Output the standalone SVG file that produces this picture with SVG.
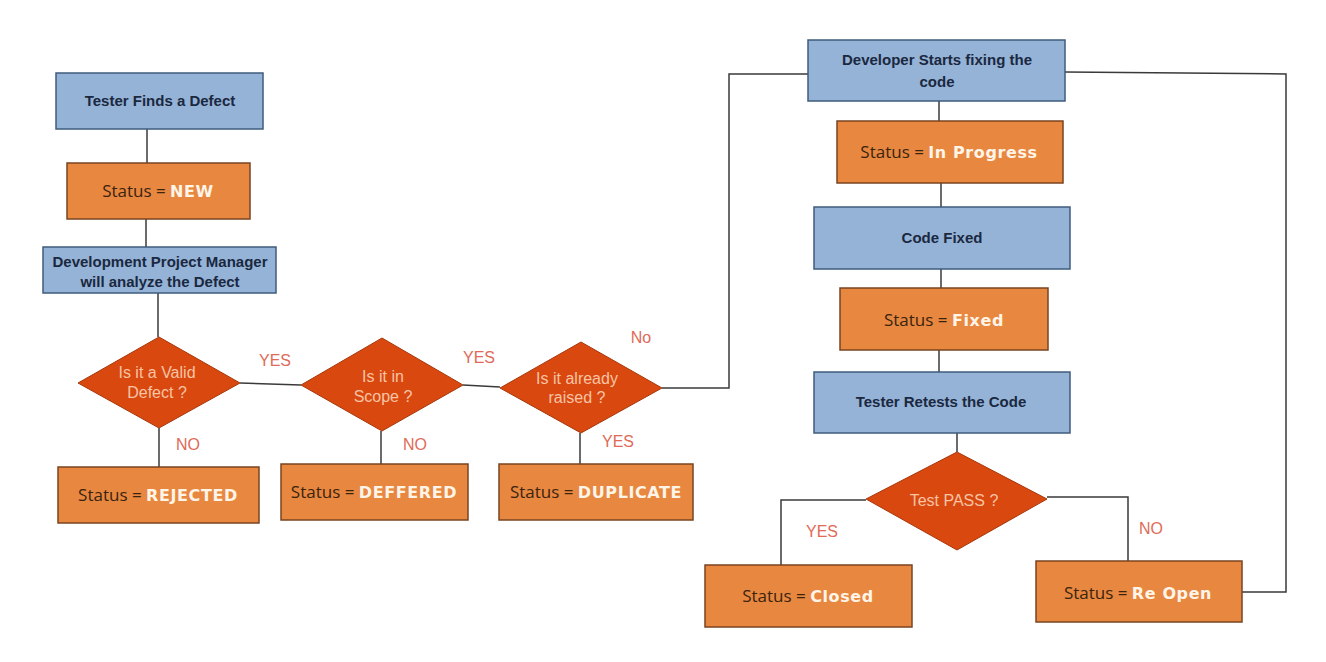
<svg xmlns="http://www.w3.org/2000/svg" width="1326" height="662" viewBox="0 0 1326 662">
<style>
.blue{fill:#95b3d7;stroke:#3f5c7c;stroke-width:1.5}
.org{fill:#e8873f;stroke:#7a4420;stroke-width:1.5}
.dia{fill:#d9480f;stroke:#a8380c;stroke-width:1}
.bt{font-family:"Liberation Sans",Arial,sans-serif;font-weight:bold;font-size:15px;fill:#1a2840;text-anchor:middle}
.st{font-family:"Open Sans","Liberation Sans",sans-serif;font-size:17px;fill:#3a2410;text-anchor:middle}
.sv{font-family:"DejaVu Sans",Verdana,sans-serif;font-weight:bold;font-size:16px;letter-spacing:0.6px;fill:#fff4e8}
.dt{font-family:"Liberation Sans",Arial,sans-serif;font-size:16px;fill:#f8c4a4;text-anchor:middle}
.lb{font-family:"Liberation Sans",Arial,sans-serif;font-size:16px;fill:#e06a58;text-anchor:middle}
.ln{fill:none;stroke:#3a3a3a;stroke-width:1.5}
</style>
<rect width="1326" height="662" fill="#ffffff"/>
<g id="connectors">
<polyline class="ln" points="147,129 147,163"/>
<polyline class="ln" points="146,219 146,247"/>
<polyline class="ln" points="158,293 158,337"/>
<polyline class="ln" points="240,383 301,385"/>
<polyline class="ln" points="159,428 159,467"/>
<polyline class="ln" points="463,385 500,387"/>
<polyline class="ln" points="381,431 381,464"/>
<polyline class="ln" points="580,433 580,464"/>
<polyline class="ln" points="662,388 729,388 729,74 808,74"/>
<polyline class="ln" points="939,101 939,121"/>
<polyline class="ln" points="941,183 941,207"/>
<polyline class="ln" points="941,269 941,288"/>
<polyline class="ln" points="939,350 939,372"/>
<polyline class="ln" points="957,433 957,452"/>
<polyline class="ln" points="866,500 781,500 781,565"/>
<polyline class="ln" points="1047,497 1128,497 1128,561"/>
<polyline class="ln" points="1242,592 1286,592 1286,74 1065,72"/>
</g>
<g id="n-tester"><rect class="blue" x="56" y="73" width="207" height="56"/><text class="bt" x="160" y="106">Tester Finds a Defect</text></g>
<g id="n-new"><rect class="org" x="67" y="163" width="183" height="56"/><text class="st" x="158" y="197">Status = <tspan class="sv">NEW</tspan></text></g>
<g id="n-dpm"><rect class="blue" x="43" y="247" width="233" height="46"/><text class="bt" x="160" y="267">Development Project Manager</text><text class="bt" x="160" y="287">will analyze the Defect</text></g>
<g id="n-valid"><polygon class="dia" points="159,337 240,383 159,428 78,383"/><text class="dt" x="157" y="378">Is it a Valid</text><text class="dt" x="157" y="398">Defect ?</text></g>
<g id="n-scope"><polygon class="dia" points="382,338 463,385 382,431 301,385"/><text class="dt" x="383" y="382">Is it in</text><text class="dt" x="383" y="402">Scope ?</text></g>
<g id="n-raised"><polygon class="dia" points="581,342 662,388 581,433 500,388"/><text class="dt" x="577" y="384">Is it already</text><text class="dt" x="577" y="403">raised ?</text></g>
<g id="n-rejected"><rect class="org" x="58" y="467" width="201" height="56"/><text class="st" x="158" y="501">Status = <tspan class="sv">REJECTED</tspan></text></g>
<g id="n-deferred"><rect class="org" x="281" y="464" width="187" height="56"/><text class="st" x="374" y="498">Status = <tspan class="sv">DEFFERED</tspan></text></g>
<g id="n-duplicate"><rect class="org" x="499" y="464" width="194" height="56"/><text class="st" x="596" y="498">Status = <tspan class="sv">DUPLICATE</tspan></text></g>
<g id="n-dev"><rect class="blue" x="808" y="40" width="257" height="61"/><text class="bt" x="937" y="65">Developer Starts fixing the</text><text class="bt" x="937" y="87">code</text></g>
<g id="n-inprog"><rect class="org" x="837" y="121" width="226" height="62"/><text class="st" x="949" y="158">Status = <tspan class="sv">In Progress</tspan></text></g>
<g id="n-codefixed"><rect class="blue" x="814" y="207" width="256" height="62"/><text class="bt" x="942" y="243">Code Fixed</text></g>
<g id="n-fixed"><rect class="org" x="840" y="288" width="208" height="62"/><text class="st" x="944" y="326">Status = <tspan class="sv">Fixed</tspan></text></g>
<g id="n-retest"><rect class="blue" x="814" y="372" width="256" height="61"/><text class="bt" x="941" y="407">Tester Retests the Code</text></g>
<g id="n-pass"><polygon class="dia" points="957,452 1047,499 957,550 866,499"/><text class="dt" x="954" y="506">Test PASS ?</text></g>
<g id="n-closed"><rect class="org" x="705" y="565" width="207" height="62"/><text class="st" x="808" y="602">Status = <tspan class="sv">Closed</tspan></text></g>
<g id="n-reopen"><rect class="org" x="1036" y="561" width="206" height="61"/><text class="st" x="1138" y="599">Status = <tspan class="sv">Re Open</tspan></text></g>
<g id="labels">
<text class="lb" x="275" y="366">YES</text>
<text class="lb" x="188" y="450">NO</text>
<text class="lb" x="479" y="363">YES</text>
<text class="lb" x="415" y="450">NO</text>
<text class="lb" x="641" y="343">No</text>
<text class="lb" x="618" y="447">YES</text>
<text class="lb" x="822" y="537">YES</text>
<text class="lb" x="1151" y="534">NO</text>
</g>
</svg>
